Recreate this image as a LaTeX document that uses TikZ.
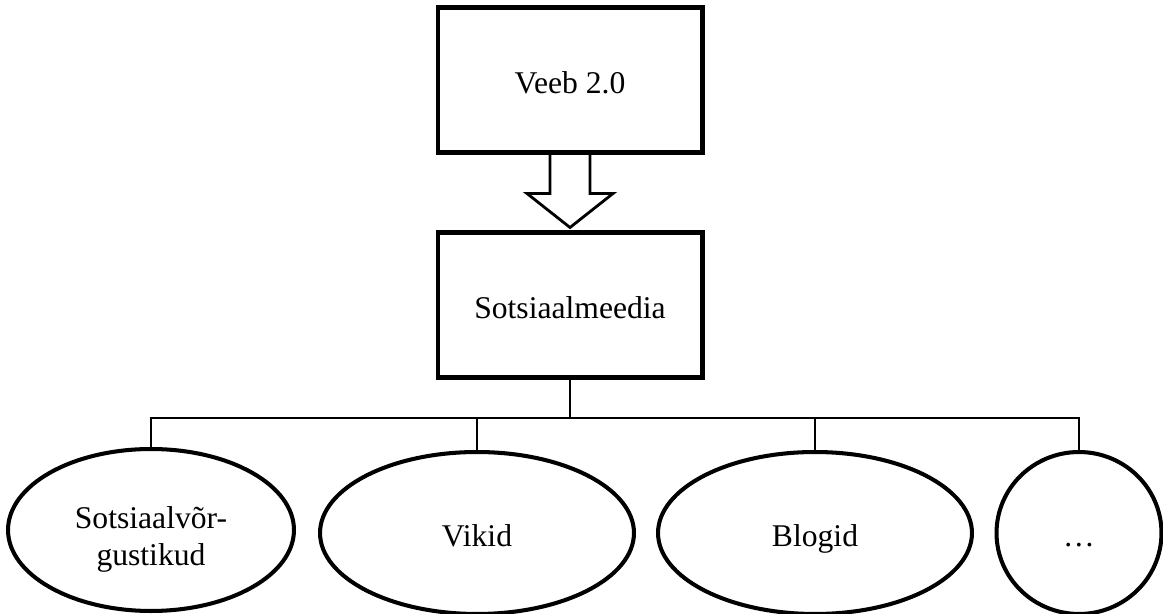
\documentclass[tikz,border=0pt]{standalone}
\usepackage{fontspec}
\setmainfont{Liberation Serif}
\usetikzlibrary{shapes.geometric,positioning,calc}
\definecolor{inkline}{HTML}{000000}

\begin{document}
\begin{tikzpicture}[x=0.02cm,y=-0.02cm,
  box/.style={draw=inkline, line width=2.3pt, minimum width=5.3cm, minimum height=2.9cm, text height=15pt, text depth=0pt, font=\fontsize{18}{21}\selectfont},
  oval/.style={ellipse, draw=inkline, line width=2.3pt, minimum height=3.24cm, inner sep=0pt, align=center, text height=15pt, text depth=0pt, font=\fontsize{18}{21}\selectfont},
  link/.style={draw=inkline, line width=1.1pt}]
\useasboundingbox (0,0) rectangle (1163,614);
% Boxes
\node[box] (veeb) at (570,80) {Veeb 2.0};
\node[box] (meedia) at (570,305) {Sotsiaalmeedia};
% Block arrow
\draw[inkline, line width=1.6pt, line join=miter]
  ($(veeb.south)+(-20,0)$) -- ++(0,39) -- ++(-23,0) -- ($(meedia.north)+(0,-3)$)
  -- ($(veeb.south)+(43,39)$) -- ++(-23,0) -- ($(veeb.south)+(20,0)$);
% Ovals
\node[oval, minimum width=5.72cm, text height=40pt, text depth=0pt] (vorg) at (151,530) {Sotsiaalvõr-\\gustikud};
\node[oval, minimum width=6.28cm] (vikid) at (477,533) {Vikid};
\node[oval, minimum width=6.28cm] (blogid) at (815,533) {Blogid};
\node[oval, minimum width=3.3cm] (muud) at (1079,533) {…};
% Tree lines
\coordinate (bar) at (570,418);
\draw[link] (meedia.south) -- (bar);
\draw[link] (vorg.north) |- (bar) -| (muud.north);
\draw[link] (vikid.north) -- (vikid.north |- bar);
\draw[link] (blogid.north) -- (blogid.north |- bar);
\end{tikzpicture}
\end{document}
